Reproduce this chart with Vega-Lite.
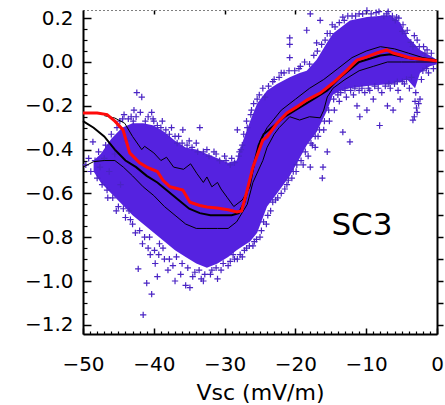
{
  "$schema": "https://vega.github.io/schema/vega-lite/v6.json",
  "width": 354,
  "height": 324,
  "autosize": {"type": "none"},
  "padding": {"left": 83, "top": 10, "right": 8, "bottom": 71},
  "background": "white",
  "config": {"view": {"stroke": null}},
  "datasets": {
    "core": [
      {"x": -48.5, "lo": -0.5, "hi": -0.45},
      {"x": -47.5, "lo": -0.55, "hi": -0.42},
      {"x": -46, "lo": -0.6, "hi": -0.35},
      {"x": -44.5, "lo": -0.65, "hi": -0.3},
      {"x": -43, "lo": -0.7, "hi": -0.28},
      {"x": -41.5, "lo": -0.74, "hi": -0.28},
      {"x": -40, "lo": -0.78, "hi": -0.29},
      {"x": -38.5, "lo": -0.82, "hi": -0.32},
      {"x": -37, "lo": -0.86, "hi": -0.36},
      {"x": -35.5, "lo": -0.89, "hi": -0.39},
      {"x": -34, "lo": -0.92, "hi": -0.4},
      {"x": -32.5, "lo": -0.94, "hi": -0.42},
      {"x": -31, "lo": -0.92, "hi": -0.44},
      {"x": -29.5, "lo": -0.89, "hi": -0.46},
      {"x": -28.3, "lo": -0.86, "hi": -0.45},
      {"x": -27.4, "lo": -0.84, "hi": -0.36},
      {"x": -26.4, "lo": -0.82, "hi": -0.27},
      {"x": -25.4, "lo": -0.78, "hi": -0.19},
      {"x": -24, "lo": -0.66, "hi": -0.13},
      {"x": -22.6, "lo": -0.6, "hi": -0.1},
      {"x": -20.8, "lo": -0.52, "hi": -0.07},
      {"x": -19.4, "lo": -0.44, "hi": -0.05},
      {"x": -18.4, "lo": -0.38, "hi": -0.04},
      {"x": -17, "lo": -0.32, "hi": 0.01},
      {"x": -15.5, "lo": -0.22, "hi": 0.09},
      {"x": -14.7, "lo": -0.15, "hi": 0.13},
      {"x": -13.5, "lo": -0.13, "hi": 0.16},
      {"x": -12.3, "lo": -0.12, "hi": 0.19},
      {"x": -9.9, "lo": -0.11, "hi": 0.205},
      {"x": -6.6, "lo": -0.1, "hi": 0.215},
      {"x": -5.2, "lo": -0.09, "hi": 0.18},
      {"x": -4.2, "lo": -0.08, "hi": 0.115},
      {"x": -3.1, "lo": -0.12, "hi": 0.08},
      {"x": -2.4, "lo": -0.05, "hi": 0.055},
      {"x": -1, "lo": -0.02, "hi": 0.03},
      {"x": 0, "lo": -0.01, "hi": 0.01}
    ],
    "pts": [
      {"x": -49.6, "y": -0.47}, {"x": -49.2, "y": -0.44}, {"x": -48.9, "y": -0.5}, {"x": -48.6, "y": -0.365},
      {"x": -48.3, "y": -0.45}, {"x": -48, "y": -0.53}, {"x": -47.8, "y": -0.41}, {"x": -47.6, "y": -0.48},
      {"x": -47.3, "y": -0.56}, {"x": -47, "y": -0.44}, {"x": -46.8, "y": -0.38}, {"x": -46.6, "y": -0.585},
      {"x": -46.3, "y": -0.5}, {"x": -46, "y": -0.33}, {"x": -45.8, "y": -0.62}, {"x": -45.5, "y": -0.42},
      {"x": -45.2, "y": -0.3}, {"x": -45, "y": -0.66}, {"x": -44.7, "y": -0.56}, {"x": -44.4, "y": -0.26},
      {"x": -44, "y": -0.71}, {"x": -43.8, "y": -0.36}, {"x": -43.5, "y": -0.68}, {"x": -43.2, "y": -0.25},
      {"x": -43, "y": -0.74}, {"x": -42.8, "y": -0.22}, {"x": -42.4, "y": -0.14}, {"x": -42.2, "y": -0.945},
      {"x": -41.9, "y": -0.23}, {"x": -41.7, "y": -0.16}, {"x": -41.5, "y": -1.155}, {"x": -41.3, "y": -0.8},
      {"x": -41, "y": -1.01}, {"x": -40.8, "y": -0.85}, {"x": -40.5, "y": -0.88}, {"x": -40.3, "y": -1.06},
      {"x": -40.3, "y": -0.23}, {"x": -40.1, "y": -0.26}, {"x": -39.8, "y": -0.92}, {"x": -39.5, "y": -0.98},
      {"x": -39.2, "y": -0.83}, {"x": -38.8, "y": -0.27}, {"x": -38.5, "y": -0.9}, {"x": -38, "y": -0.95},
      {"x": -37.5, "y": -0.3}, {"x": -37.3, "y": -0.93}, {"x": -37, "y": -1.0}, {"x": -36.5, "y": -0.34},
      {"x": -36.2, "y": -0.97}, {"x": -35.9, "y": -0.31}, {"x": -35.5, "y": -1.02}, {"x": -35, "y": -0.36},
      {"x": -34.9, "y": -1.03}, {"x": -34.5, "y": -0.98}, {"x": -34, "y": -0.37}, {"x": -33.5, "y": -0.3},
      {"x": -33.3, "y": -0.99}, {"x": -33, "y": -1.0}, {"x": -32.5, "y": -0.4}, {"x": -32, "y": -0.97},
      {"x": -31.5, "y": -0.41}, {"x": -31, "y": -0.99}, {"x": -30.5, "y": -0.95}, {"x": -30, "y": -0.43},
      {"x": -29.5, "y": -0.93}, {"x": -29, "y": -0.44}, {"x": -28.6, "y": -0.9}, {"x": -28.2, "y": -0.31},
      {"x": -28.2, "y": -0.9}, {"x": -27.8, "y": -0.88}, {"x": -27.5, "y": -0.38}, {"x": -27.2, "y": -0.86},
      {"x": -26.8, "y": -0.3}, {"x": -26.5, "y": -0.84}, {"x": -26.2, "y": -0.22}, {"x": -25.8, "y": -0.82},
      {"x": -25.4, "y": -0.17}, {"x": -25, "y": -0.8}, {"x": -24.3, "y": -0.16}, {"x": -24.5, "y": -0.73},
      {"x": -23.9, "y": -0.7}, {"x": -23.2, "y": -0.09}, {"x": -23.2, "y": -0.64}, {"x": -22.5, "y": -0.62},
      {"x": -22, "y": -0.05}, {"x": -21.5, "y": -0.58}, {"x": -21, "y": -0.54}, {"x": -20.8, "y": 0.11},
      {"x": -20.8, "y": 0.08}, {"x": -20.8, "y": 0.02}, {"x": -20.3, "y": -0.5}, {"x": -19.8, "y": -0.47},
      {"x": -19.5, "y": -0.03}, {"x": -18.9, "y": -0.47}, {"x": -18.4, "y": 0.145}, {"x": -18.2, "y": -0.43},
      {"x": -17.9, "y": 0.22}, {"x": -17.9, "y": -0.48}, {"x": -17.6, "y": -0.38}, {"x": -17.2, "y": -0.39},
      {"x": -17, "y": 0.087}, {"x": -16.8, "y": -0.34}, {"x": -16.5, "y": 0.19}, {"x": -16.2, "y": -0.53},
      {"x": -16.1, "y": -0.48}, {"x": -16, "y": -0.31}, {"x": -15.5, "y": -0.41}, {"x": -15.5, "y": 0.13},
      {"x": -15.2, "y": -0.27}, {"x": -14.8, "y": 0.17}, {"x": -14.5, "y": -0.22}, {"x": -13.8, "y": -0.18},
      {"x": -13.3, "y": 0.205}, {"x": -13.3, "y": -0.32}, {"x": -12.8, "y": -0.16}, {"x": -12.3, "y": -0.365},
      {"x": -12, "y": 0.21}, {"x": -11.8, "y": -0.15}, {"x": -11.3, "y": -0.2}, {"x": -10.9, "y": -0.25},
      {"x": -10.5, "y": 0.22}, {"x": -10.2, "y": -0.14}, {"x": -9.9, "y": 0.235}, {"x": -9.9, "y": -0.22},
      {"x": -9.5, "y": -0.13}, {"x": -9, "y": -0.17}, {"x": -8.6, "y": 0.225}, {"x": -8.1, "y": -0.29},
      {"x": -7.8, "y": -0.14}, {"x": -7.1, "y": 0.22}, {"x": -7, "y": -0.2}, {"x": -6.6, "y": -0.12},
      {"x": -6.2, "y": -0.22}, {"x": -5.7, "y": 0.205}, {"x": -5.5, "y": -0.13}, {"x": -5.2, "y": -0.17},
      {"x": -4.8, "y": 0.17}, {"x": -4.6, "y": -0.1}, {"x": -4.2, "y": 0.145}, {"x": -3.9, "y": -0.12},
      {"x": -3.4, "y": -0.265}, {"x": -3.2, "y": 0.12}, {"x": -3.0, "y": -0.14}, {"x": -3.1, "y": -0.18},
      {"x": -2.9, "y": -0.21}, {"x": -3.2, "y": -0.25}, {"x": -2.8, "y": -0.23}, {"x": -2.8, "y": 0.1},
      {"x": -2.6, "y": -0.19}, {"x": -2.4, "y": -0.17}, {"x": -2.2, "y": -0.08}, {"x": -1.9, "y": 0.07},
      {"x": -1.4, "y": 0.055}, {"x": -1.2, "y": -0.05}, {"x": -0.8, "y": 0.04}, {"x": -0.5, "y": -0.03},
      {"x": -44.8, "y": -0.27}, {"x": -44.2, "y": -0.24}, {"x": -43.6, "y": -0.26}, {"x": -42.9, "y": -0.27},
      {"x": -42.5, "y": -0.25}, {"x": -41.2, "y": -0.27}, {"x": -40.8, "y": -0.25}, {"x": -40, "y": -0.27},
      {"x": -39.5, "y": -0.29}, {"x": -39, "y": -0.3}, {"x": -38.3, "y": -0.31}, {"x": -37.8, "y": -0.33},
      {"x": -37, "y": -0.34}, {"x": -36.7, "y": -0.37}, {"x": -36, "y": -0.37}, {"x": -35.3, "y": -0.38},
      {"x": -34.6, "y": -0.39}, {"x": -33.8, "y": -0.41}, {"x": -33, "y": -0.41}, {"x": -32.2, "y": -0.43},
      {"x": -31.2, "y": -0.42}, {"x": -30.7, "y": -0.45}, {"x": -29.8, "y": -0.45}, {"x": -29.2, "y": -0.47},
      {"x": -28.6, "y": -0.46}, {"x": -28, "y": -0.43}, {"x": -27.7, "y": -0.4},
      {"x": -46.5, "y": -0.62}, {"x": -45.3, "y": -0.68}, {"x": -44.3, "y": -0.67}, {"x": -43.3, "y": -0.72},
      {"x": -42.6, "y": -0.78}, {"x": -42, "y": -0.77}, {"x": -41.6, "y": -0.83}, {"x": -40.6, "y": -0.8},
      {"x": -39.9, "y": -0.86}, {"x": -39.3, "y": -0.88}, {"x": -38.7, "y": -0.85}, {"x": -37.8, "y": -0.9},
      {"x": -36.8, "y": -0.89}, {"x": -36, "y": -0.92}, {"x": -35.2, "y": -0.94}, {"x": -34.2, "y": -0.96},
      {"x": -33.6, "y": -0.95}, {"x": -32.8, "y": -0.97}, {"x": -31.8, "y": -0.95}, {"x": -31.2, "y": -0.94},
      {"x": -30.2, "y": -0.92}, {"x": -29.2, "y": -0.91}, {"x": -28.8, "y": -0.88}, {"x": -27.5, "y": -0.89},
      {"x": -26.9, "y": -0.85}, {"x": -26, "y": -0.84}, {"x": -25.5, "y": -0.81}, {"x": -24.8, "y": -0.77},
      {"x": -24.1, "y": -0.74}, {"x": -23.5, "y": -0.68}, {"x": -22.8, "y": -0.63}, {"x": -22, "y": -0.6},
      {"x": -21.2, "y": -0.56}, {"x": -20.5, "y": -0.53}, {"x": -19.9, "y": -0.5}, {"x": -19.2, "y": -0.45},
      {"x": -18.6, "y": -0.41}, {"x": -17.8, "y": -0.37}, {"x": -17.2, "y": -0.34}, {"x": -16.6, "y": -0.31},
      {"x": -15.9, "y": -0.27}, {"x": -15.3, "y": -0.22}, {"x": -14.6, "y": -0.17},
      {"x": -27.9, "y": -0.41}, {"x": -27.3, "y": -0.33}, {"x": -26.9, "y": -0.27}, {"x": -26.3, "y": -0.24},
      {"x": -25.9, "y": -0.19}, {"x": -25.1, "y": -0.15}, {"x": -24.6, "y": -0.12}, {"x": -23.8, "y": -0.11},
      {"x": -23, "y": -0.08}, {"x": -22.3, "y": -0.07}, {"x": -21.6, "y": -0.05}, {"x": -20.9, "y": -0.04},
      {"x": -20.1, "y": -0.04}, {"x": -19.3, "y": -0.02}, {"x": -18.7, "y": 0.0}, {"x": -18, "y": -0.01},
      {"x": -17.4, "y": 0.03}, {"x": -16.9, "y": 0.05}, {"x": -16.3, "y": 0.08}, {"x": -15.8, "y": 0.1},
      {"x": -15.1, "y": 0.13}, {"x": -14.4, "y": 0.16}, {"x": -13.8, "y": 0.18}, {"x": -13.1, "y": 0.19},
      {"x": -12.6, "y": 0.21}, {"x": -11.5, "y": 0.21}, {"x": -11, "y": 0.22}, {"x": -9.3, "y": 0.22},
      {"x": -8.2, "y": 0.23}, {"x": -7.5, "y": 0.21}, {"x": -6.9, "y": 0.23}, {"x": -6.3, "y": 0.21},
      {"x": -5.9, "y": 0.19}, {"x": -5.4, "y": 0.2}, {"x": -4.9, "y": 0.14}, {"x": -4.4, "y": 0.13},
      {"x": -3.7, "y": 0.09}, {"x": -3.4, "y": 0.07}, {"x": -2.5, "y": 0.07}, {"x": -1.7, "y": 0.04},
      {"x": -14, "y": -0.15}, {"x": -13.6, "y": -0.14}, {"x": -13, "y": -0.13}, {"x": -12.2, "y": -0.13},
      {"x": -11.6, "y": -0.12}, {"x": -11, "y": -0.13}, {"x": -10.6, "y": -0.12}, {"x": -9.7, "y": -0.12},
      {"x": -8.8, "y": -0.11}, {"x": -8.3, "y": -0.12}, {"x": -7.3, "y": -0.11}, {"x": -6.8, "y": -0.1},
      {"x": -6, "y": -0.1}, {"x": -5.6, "y": -0.09}, {"x": -4.9, "y": -0.09}, {"x": -4.3, "y": -0.08},
      {"x": -3.6, "y": -0.07}, {"x": -2.0, "y": -0.04}, {"x": -1.5, "y": -0.03}
    ],
    "mean": [
      {"x": -50, "y": -0.233}, {"x": -48, "y": -0.233}, {"x": -46.6, "y": -0.24}, {"x": -45.5, "y": -0.27},
      {"x": -44.35, "y": -0.31}, {"x": -43.4, "y": -0.415}, {"x": -42, "y": -0.46}, {"x": -41, "y": -0.48},
      {"x": -39.5, "y": -0.5}, {"x": -38.7, "y": -0.54}, {"x": -37.7, "y": -0.57}, {"x": -35.9, "y": -0.585},
      {"x": -34.9, "y": -0.64}, {"x": -33.5, "y": -0.655}, {"x": -32.5, "y": -0.662}, {"x": -31.1, "y": -0.667},
      {"x": -29.5, "y": -0.675}, {"x": -28.25, "y": -0.685}, {"x": -27.6, "y": -0.68}, {"x": -26.8, "y": -0.584},
      {"x": -26, "y": -0.48}, {"x": -24.6, "y": -0.356}, {"x": -24, "y": -0.342}, {"x": -22.6, "y": -0.279},
      {"x": -21.2, "y": -0.233}, {"x": -19.8, "y": -0.205}, {"x": -18.4, "y": -0.174}, {"x": -16.5, "y": -0.142},
      {"x": -14.7, "y": -0.096}, {"x": -12.7, "y": -0.037}, {"x": -11.3, "y": 0.009}, {"x": -9.9, "y": 0.023},
      {"x": -8.5, "y": 0.041}, {"x": -7.1, "y": 0.055}, {"x": -6.2, "y": 0.041}, {"x": -5.2, "y": 0.032},
      {"x": -3.8, "y": 0.018}, {"x": -2.4, "y": 0.014}, {"x": -1, "y": 0.009}, {"x": 0, "y": 0.005}
    ],
    "median": [
      {"x": -50, "y": -0.27}, {"x": -48.5, "y": -0.3}, {"x": -47, "y": -0.34}, {"x": -45.5, "y": -0.4},
      {"x": -44, "y": -0.45}, {"x": -42.5, "y": -0.48}, {"x": -41, "y": -0.52}, {"x": -39.5, "y": -0.55},
      {"x": -38, "y": -0.59}, {"x": -36.5, "y": -0.63}, {"x": -35, "y": -0.67}, {"x": -33.5, "y": -0.69},
      {"x": -32, "y": -0.7}, {"x": -30.5, "y": -0.7}, {"x": -29, "y": -0.7}, {"x": -28, "y": -0.69},
      {"x": -27.2, "y": -0.64}, {"x": -26.5, "y": -0.55}, {"x": -25.8, "y": -0.46}, {"x": -25.2, "y": -0.38},
      {"x": -24.5, "y": -0.33}, {"x": -23, "y": -0.29}, {"x": -21.5, "y": -0.25}, {"x": -20, "y": -0.22},
      {"x": -18.5, "y": -0.19}, {"x": -17, "y": -0.16}, {"x": -15.5, "y": -0.13}, {"x": -14, "y": -0.08},
      {"x": -12.5, "y": -0.04}, {"x": -11, "y": 0.0}, {"x": -9.5, "y": 0.015}, {"x": -8, "y": 0.03},
      {"x": -6.5, "y": 0.035}, {"x": -5, "y": 0.025}, {"x": -3.5, "y": 0.015}, {"x": -2, "y": 0.01}, {"x": 0, "y": 0.005}
    ],
    "upper": [
      {"x": -47, "y": -0.245}, {"x": -45.5, "y": -0.256}, {"x": -44.1, "y": -0.28}, {"x": -43, "y": -0.34},
      {"x": -41.7, "y": -0.4}, {"x": -41.3, "y": -0.385}, {"x": -40, "y": -0.415}, {"x": -39, "y": -0.45},
      {"x": -38.2, "y": -0.435}, {"x": -37.2, "y": -0.48}, {"x": -35.8, "y": -0.49}, {"x": -34.8, "y": -0.465},
      {"x": -33.9, "y": -0.51}, {"x": -33, "y": -0.55}, {"x": -32.5, "y": -0.525}, {"x": -31.8, "y": -0.57},
      {"x": -31, "y": -0.55}, {"x": -30.5, "y": -0.58}, {"x": -29.6, "y": -0.62}, {"x": -28.7, "y": -0.66},
      {"x": -27.5, "y": -0.63}, {"x": -26.4, "y": -0.57}, {"x": -25.7, "y": -0.45}, {"x": -25, "y": -0.36},
      {"x": -24, "y": -0.3}, {"x": -22, "y": -0.22}, {"x": -20, "y": -0.17}, {"x": -18, "y": -0.12},
      {"x": -16, "y": -0.08}, {"x": -14, "y": -0.03}, {"x": -12, "y": 0.02}, {"x": -10, "y": 0.05},
      {"x": -8, "y": 0.07}, {"x": -6, "y": 0.06}, {"x": -4, "y": 0.04}, {"x": -2, "y": 0.02}, {"x": 0, "y": 0.01}
    ],
    "lower": [
      {"x": -50, "y": -0.48}, {"x": -48.5, "y": -0.455}, {"x": -47, "y": -0.45}, {"x": -45.5, "y": -0.45},
      {"x": -44.3, "y": -0.48}, {"x": -43, "y": -0.52}, {"x": -41.5, "y": -0.57}, {"x": -40, "y": -0.61},
      {"x": -38.5, "y": -0.66}, {"x": -37, "y": -0.7}, {"x": -35.5, "y": -0.74}, {"x": -34, "y": -0.76},
      {"x": -32.5, "y": -0.76}, {"x": -31, "y": -0.76}, {"x": -29.5, "y": -0.76}, {"x": -28.3, "y": -0.73},
      {"x": -26.8, "y": -0.65}, {"x": -26, "y": -0.55}, {"x": -24.6, "y": -0.45}, {"x": -24, "y": -0.39},
      {"x": -23, "y": -0.33}, {"x": -22.3, "y": -0.3}, {"x": -20.8, "y": -0.25}, {"x": -19.4, "y": -0.265},
      {"x": -18, "y": -0.25}, {"x": -16.5, "y": -0.255}, {"x": -16, "y": -0.22}, {"x": -15.5, "y": -0.16},
      {"x": -14.7, "y": -0.12}, {"x": -13, "y": -0.08}, {"x": -11, "y": -0.04}, {"x": -9, "y": -0.02},
      {"x": -7, "y": 0.0}, {"x": -5, "y": 0.0}, {"x": -3, "y": 0.0}, {"x": -1, "y": 0.0}, {"x": 0, "y": 0.0}
    ],
    "label": [{"x": -10.6, "y": -0.75, "text": "SC3"}]
  },
  "resolve": {"axis": {"x": "independent", "y": "independent"}},
  "layer": [
    {
      "data": {"name": "core"},
      "mark": {"type": "area", "color": "#5522e0", "opacity": 1},
      "encoding": {
        "x": {"field": "x", "type": "quantitative",
          "scale": {"domain": [-50, 0], "nice": false, "zero": false},
          "axis": {"orient": "bottom", "values": [-50, -40, -30, -20, -10, 0], "format": "d", "grid": false,
            "tickSize": -6, "tickWidth": 1.5, "tickColor": "black", "domainColor": "black", "domainWidth": 2,
            "labelFont": "DejaVu Sans", "labelFontSize": 20, "labelColor": "black", "labelPadding": 26,
            "labelFlush": false, "labelOverlap": false,
            "title": "Vsc (mV/m)", "titleFont": "DejaVu Sans", "titleFontSize": 22, "titleFontWeight": "normal",
            "titleColor": "black", "titlePadding": 8}},
        "y": {"field": "lo", "type": "quantitative",
          "scale": {"domain": [-1.242, 0.2374], "nice": false, "zero": false},
          "axis": {"orient": "left", "values": [-1.2, -1.0, -0.8, -0.6, -0.4, -0.2, 0.0, 0.2], "format": ".1f", "grid": false,
            "tickSize": -8, "tickWidth": 1.5, "tickColor": "black", "domainColor": "black", "domainWidth": 2,
            "labelFont": "DejaVu Sans", "labelFontSize": 20, "labelColor": "black", "labelPadding": 18,
            "labelFlush": false, "labelOverlap": false, "title": null}},
        "y2": {"field": "hi"}
      }
    },
    {
      "data": {"name": "pts"},
      "mark": {"type": "point", "shape": "M-1,0L1,0M0,-1L0,1", "size": 40, "filled": false, "strokeWidth": 1.2, "color": "#4a24c4", "opacity": 1},
      "encoding": {
        "x": {"field": "x", "type": "quantitative",
          "axis": {"orient": "bottom", "values": [-49,-48,-47,-46,-45,-44,-43,-42,-41,-39,-38,-37,-36,-35,-34,-33,-32,-31,-29,-28,-27,-26,-25,-24,-23,-22,-21,-19,-18,-17,-16,-15,-14,-13,-12,-11,-9,-8,-7,-6,-5,-4,-3,-2,-1],
            "grid": false, "labels": false, "domain": false, "tickSize": -3, "tickWidth": 1.2, "tickColor": "black", "title": null}},
        "y": {"field": "y", "type": "quantitative",
          "axis": {"orient": "left", "values": [-1.15,-1.1,-1.05,-0.95,-0.9,-0.85,-0.75,-0.7,-0.65,-0.55,-0.5,-0.45,-0.35,-0.3,-0.25,-0.15,-0.1,-0.05,0.05,0.1,0.15],
            "grid": false, "labels": false, "domain": false, "tickSize": -4, "tickWidth": 1.2, "tickColor": "black", "title": null}}
      }
    },
    {
      "data": {"name": "lower"},
      "mark": {"type": "line", "color": "black", "strokeWidth": 1},
      "encoding": {
        "x": {"field": "x", "type": "quantitative",
          "axis": {"orient": "top", "values": [-40, -30, -20, -10], "grid": false, "labels": false,
            "domainDash": [1, 3], "domainColor": "black", "domainWidth": 1.2, "tickSize": -4, "tickWidth": 1.5, "tickColor": "black", "title": null}},
        "y": {"field": "y", "type": "quantitative",
          "axis": {"orient": "right", "values": [-1.2,-1.1,-1.0,-0.9,-0.8,-0.7,-0.6,-0.5,-0.4,-0.3,-0.2,-0.1,0.0,0.1,0.2], "grid": false, "labels": false,
            "domainColor": "black", "domainWidth": 2, "tickSize": 6, "tickWidth": 1.5, "tickColor": "black", "title": null}}
      }
    },
    {
      "data": {"name": "upper"},
      "mark": {"type": "line", "color": "black", "strokeWidth": 1},
      "encoding": {
        "x": {"field": "x", "type": "quantitative", "axis": null},
        "y": {"field": "y", "type": "quantitative", "axis": null}
      }
    },
    {
      "data": {"name": "median"},
      "mark": {"type": "line", "color": "black", "strokeWidth": 2},
      "encoding": {
        "x": {"field": "x", "type": "quantitative", "axis": null},
        "y": {"field": "y", "type": "quantitative", "axis": null}
      }
    },
    {
      "data": {"name": "mean"},
      "mark": {"type": "line", "color": "#ff0a0a", "strokeWidth": 3},
      "encoding": {
        "x": {"field": "x", "type": "quantitative", "axis": null},
        "y": {"field": "y", "type": "quantitative", "axis": null}
      }
    },
    {
      "mark": {"type": "rule", "color": "black", "strokeWidth": 2},
      "encoding": {
        "y": {"datum": 0, "type": "quantitative", "axis": null}
      }
    },
    {
      "data": {"name": "label"},
      "mark": {"type": "text", "font": "DejaVu Sans", "fontSize": 31, "color": "black", "align": "center", "baseline": "middle"},
      "encoding": {
        "x": {"field": "x", "type": "quantitative", "axis": null},
        "y": {"field": "y", "type": "quantitative", "axis": null},
        "text": {"field": "text"}
      }
    }
  ]
}
